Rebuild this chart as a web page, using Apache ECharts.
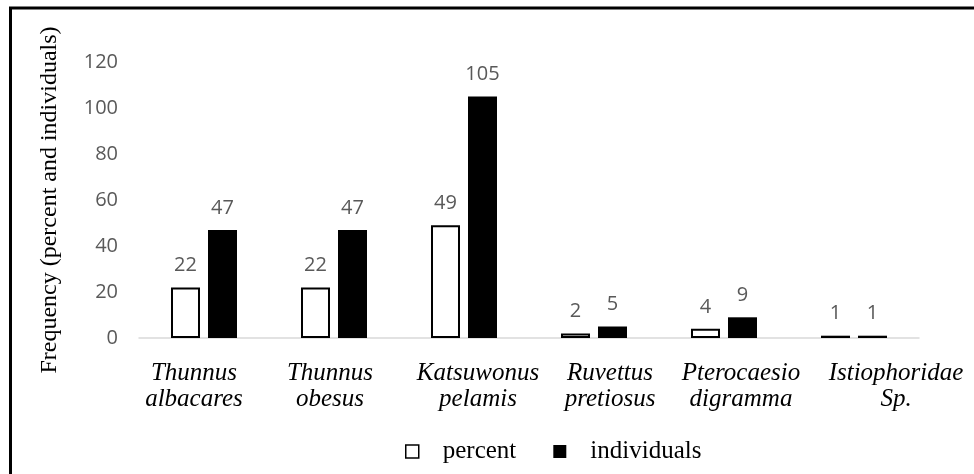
<!DOCTYPE html>
<html>
<head>
<meta charset="utf-8">
<script src="https://cdn.jsdelivr.net/npm/echarts@6/dist/echarts.min.js"></script>
<style>
  html, body { margin: 0; padding: 0; background: #fff; }
  #chart { width: 974px; height: 474px; }
</style>
</head>
<body>
<div id="chart"></div>
<script>
// Species sampled and their catch frequency
const categories = [
  'Thunnus\nalbacares',
  'Thunnus\nobesus',
  'Katsuwonus\npelamis',
  'Ruvettus\npretiosus',
  'Pterocaesio\ndigramma',
  'Istiophoridae\nSp.'
];
const percentValues = [22, 22, 49, 2, 4, 1];
const individualValues = [47, 47, 105, 5, 9, 1];
const yTicks = { min: 0, max: 120, interval: 20 };

// Horizontal nudge (px) for each species label so the long names don't collide
const labelNudge = [-10, -4, 14, 16, 17, 42];

const categoryItems = categories.map((name, i) => {
  const d = labelNudge[i];
  const pad = d >= 0 ? [0, 0, 0, 2 * d] : [0, -2 * d, 0, 0];
  return { value: name, textStyle: { padding: pad } };
});

const labelFont = { fontFamily: 'Open Sans', fontSize: 20, color: '#595959' };

const chart = echarts.init(document.getElementById('chart'), null, { renderer: 'canvas' });
chart.setOption({
  animation: false,
  backgroundColor: '#ffffff',
  graphic: [{
    type: 'rect',
    shape: { x: 10.5, y: 8, width: 1100, height: 600 },
    style: { fill: 'none', stroke: '#000', lineWidth: 3 },
    silent: true
  }],
  grid: { left: 139, right: 55, top: 62, bottom: 136 },
  legend: {
    top: 434,
    left: 400,
    itemWidth: 13,
    itemHeight: 13,
    itemGap: 37,
    icon: 'rect',
    textStyle: {
      fontFamily: 'Liberation Serif',
      fontSize: 25,
      color: '#000',
      padding: [0, 0, 0, 19]
    },
    data: [
      { name: 'percent', itemStyle: { color: '#fff', borderColor: '#000', borderWidth: 1.5 } },
      { name: 'individuals', itemStyle: { color: '#000' } }
    ]
  },
  xAxis: {
    type: 'category',
    data: categoryItems,
    axisLine: { lineStyle: { color: '#d9d9d9', width: 1.5 } },
    axisTick: { show: false },
    axisLabel: {
      interval: 0,
      margin: 22,
      fontFamily: 'Liberation Serif',
      fontStyle: 'italic',
      fontSize: 25,
      lineHeight: 26,
      color: '#000'
    }
  },
  yAxis: {
    type: 'value',
    min: yTicks.min,
    max: yTicks.max,
    interval: yTicks.interval,
    name: 'Frequency (percent and individuals)',
    nameLocation: 'middle',
    nameGap: 77,
    nameTextStyle: { fontFamily: 'Liberation Serif', fontSize: 24, color: '#000' },
    axisLine: { show: false },
    axisTick: { show: false },
    splitLine: { show: false },
    axisLabel: { margin: 21, ...labelFont }
  },
  series: [
    {
      name: 'percent',
      type: 'bar',
      data: percentValues,
      barWidth: 29,
      barGap: '27.6%',
      itemStyle: { color: '#fff', borderColor: '#000', borderWidth: 2 },
      label: { show: true, position: 'top', distance: 12, ...labelFont }
    },
    {
      name: 'individuals',
      type: 'bar',
      data: individualValues,
      barWidth: 29,
      itemStyle: { color: '#000' },
      label: { show: true, position: 'top', distance: 12, ...labelFont }
    }
  ]
});
</script>
</body>
</html>
